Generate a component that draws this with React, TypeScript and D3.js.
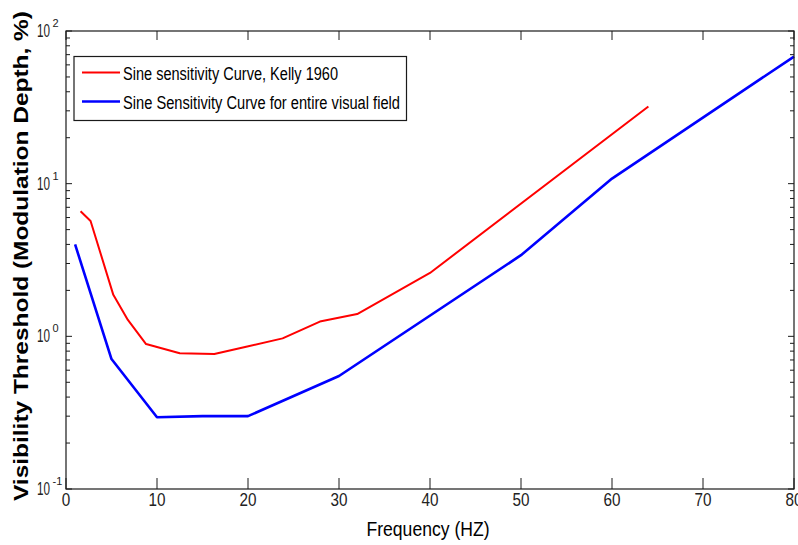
import React from "react";
import * as d3 from "d3";

// Kelly 1960 curve
const redFreq = [1.6, 2.7, 5.2, 6.8, 8.8, 12.5, 16.3, 19.8, 23.8, 27.9, 32, 40, 64];
const redThresh = [6.6, 5.7, 1.87, 1.28, 0.89, 0.775, 0.765, 0.855, 0.97, 1.25, 1.4, 2.6, 32];

// entire visual field curve
const blueFreq = [1, 5, 10, 15, 20, 30, 50, 60, 80];
const blueThresh = [4.0, 0.71, 0.295, 0.3, 0.3, 0.55, 3.4, 10.8, 68];

const xTicks = [0, 10, 20, 30, 40, 50, 60, 70, 80];
const yDecades = [-1, 0, 1, 2];
const legendLabels = ["Sine sensitivity Curve, Kelly 1960", "Sine Sensitivity Curve for entire visual field"];

const W = 798;
const H = 545;
const margin = { left: 66, right: 4, top: 31, bottom: 56 };

const narrow = "'Liberation Sans Narrow', 'Arial Narrow', 'Liberation Sans', Arial, sans-serif";
const ink = "#1a1a1a";

const App = () => {
    const x = d3.scaleLinear().domain([0, 80]).range([margin.left, W - margin.right]);
    const y = d3.scaleLog().domain([0.1, 100]).range([H - margin.bottom, margin.top]);

    const line = d3.line<[number, number]>()
        .x((d) => x(d[0]))
        .y((d) => y(d[1]));

    const red: [number, number][] = redFreq.map((f, i) => [f, redThresh[i]]);
    const blue: [number, number][] = blueFreq.map((f, i) => [f, blueThresh[i]]);

    const x0 = x(0), x1 = x(80), yb = y(0.1), yt = y(100);

    // minor ticks for the log axis
    const minor: number[] = [];
    for (let e = -1; e < 2; e++) {
        for (let k = 2; k <= 9; k++) minor.push(k * Math.pow(10, e));
    }

    return (
        <svg width={W} height={H} style={{ position: "absolute", left: 0, top: 0, background: "#fff" }}>
            <rect x={0} y={0} width={W} height={H} fill="#fff" />

            {/* lines */}
            <path d={line(red) || ""} fill="none" stroke="#ff0000" strokeWidth={2} strokeLinejoin="round" />
            <path d={line(blue) || ""} fill="none" stroke="#0000ff" strokeWidth={2.6} strokeLinejoin="round" />

            {/* frame */}
            <rect x={x0} y={yt} width={x1 - x0} height={yb - yt} fill="none" stroke={ink} strokeWidth={1.2} />

            {/* x ticks */}
            {xTicks.map((t) => (
                <g key={"xt" + t}>
                    <line x1={x(t)} x2={x(t)} y1={yb} y2={yb - 11} stroke={ink} strokeWidth={1} />
                    <line x1={x(t)} x2={x(t)} y1={yt} y2={yt + 9} stroke={ink} strokeWidth={1} />
                    <text x={x(t)} y={506} textAnchor="middle" fontFamily={narrow} fontSize={19} fill="#222"
                        textLength={String(t).length * 8.5} lengthAdjust="spacingAndGlyphs">{t}</text>
                </g>
            ))}

            {/* y ticks */}
            {yDecades.map((e) => {
                const v = Math.pow(10, e);
                return (
                    <g key={"yd" + e}>
                        <line x1={x0} x2={x0 + 6} y1={y(v)} y2={y(v)} stroke={ink} strokeWidth={1} />
                        <line x1={x1} x2={x1 - 6} y1={y(v)} y2={y(v)} stroke={ink} strokeWidth={1} />
                        <text x={37} y={y(v) + 6} fontFamily={narrow} fontSize={18} fill="#222"
                            textLength={13} lengthAdjust="spacingAndGlyphs">10</text>
                        <text x={52.5} y={y(v) - 4} fontFamily={narrow} fontSize={11} fill="#222">{e}</text>
                    </g>
                );
            })}
            {minor.map((v) => (
                <g key={"ym" + v}>
                    <line x1={x0} x2={x0 + 4} y1={y(v)} y2={y(v)} stroke={ink} strokeWidth={1} />
                    <line x1={x1} x2={x1 - 4} y1={y(v)} y2={y(v)} stroke={ink} strokeWidth={1} />
                </g>
            ))}

            {/* axis titles */}
            <text x={428} y={536} textAnchor="middle" fontFamily={narrow} fontSize={20} fill="#000"
                textLength={123} lengthAdjust="spacingAndGlyphs">Frequency (HZ)</text>
            <text transform={`translate(28, 256) rotate(-90)`} textAnchor="middle"
                fontFamily="'Liberation Sans', Arial, sans-serif" fontWeight="bold" fontSize={20} fill="#000"
                textLength={490} lengthAdjust="spacingAndGlyphs">
                Visibility Threshold (Modulation Depth, %)
            </text>

            {/* legend */}
            <rect x={74} y={56.5} width={332.5} height={64} fill="#fff" stroke={ink} strokeWidth={1.2} />
            <line x1={82} x2={120} y1={72.5} y2={72.5} stroke="#ff0000" strokeWidth={2} />
            <line x1={82} x2={120} y1={101.5} y2={101.5} stroke="#0000ff" strokeWidth={2.6} />
            <text x={123} y={79.5} fontFamily={narrow} fontSize={18} fill="#000"
                textLength={215} lengthAdjust="spacingAndGlyphs">{legendLabels[0]}</text>
            <text x={123} y={108.5} fontFamily={narrow} fontSize={18} fill="#000"
                textLength={277} lengthAdjust="spacingAndGlyphs">{legendLabels[1]}</text>
        </svg>
    );
};

export default App;
